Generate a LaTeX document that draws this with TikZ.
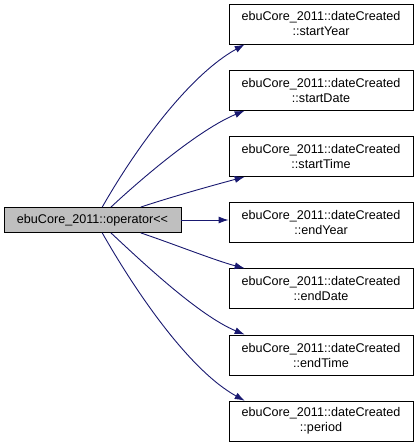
\documentclass[tikz,border=0pt]{standalone}
\usepackage{xcolor}
\usepackage{fontspec}
\setmainfont{Liberation Sans}
\usepackage{tikz}
\usetikzlibrary{arrows.meta, positioning}

\definecolor{edgeblue}{HTML}{191970}
\definecolor{callergray}{HTML}{BFBFBF}

\begin{document}
\begin{tikzpicture}[
    x=1pt, y=1pt,
    node distance=25.3pt,
    funcbox/.style={rectangle, draw=black, fill=white, line width=0.9pt, minimum width=184pt, minimum height=40pt, inner sep=0pt, align=center, font=\fontsize{12.6}{15}\selectfont},
    callerbox/.style={funcbox, fill=callergray, minimum width=177pt, minimum height=25pt},
    arrow/.style={line width=0.9pt, draw=edgeblue, -{Latex[length=10pt, width=7pt]}}
]
    \useasboundingbox (0,0) rectangle (419,-443);

    % Caller
    \node (op) [callerbox] at (92.5,-220) {ebuCore\_2011::operator<{}<};

    % Callees
    \node (sy) [funcbox] at (321,-24) {ebuCore\_2011::dateCreated\\::startYear};
    \node (sd) [funcbox, below=of sy] {ebuCore\_2011::dateCreated\\::startDate};
    \node (st) [funcbox, below=of sd] {ebuCore\_2011::dateCreated\\::startTime};
    \node (ey) [funcbox, below=of st] {ebuCore\_2011::dateCreated\\::endYear};
    \node (ed) [funcbox, below=of ey] {ebuCore\_2011::dateCreated\\::endDate};
    \node (et) [funcbox, below=of ed] {ebuCore\_2011::dateCreated\\::endTime};
    \node (pe) [funcbox, below=of et] {ebuCore\_2011::dateCreated\\::period};

    % Calls
    \draw [arrow] (op.53) .. controls +(33,58) and +(-56,-31) .. (sy.195);
    \draw [arrow] (op.35) .. controls +(30,28) and +(-46,-19) .. (sd.195);
    \draw [arrow] (op.15) .. controls +(30,10) and +(-30,-8) .. (st.195);
    \draw [arrow] (op.east) -- (op.east -| ey.west);
    \draw [arrow] (op.-15) .. controls +(30,-10) and +(-30,8) .. (ed.165);
    \draw [arrow] (op.-35) .. controls +(30,-28) and +(-46,19) .. (et.165);
    \draw [arrow] (op.-53) .. controls +(33,-58) and +(-56,31) .. (pe.165);

\end{tikzpicture}
\end{document}
